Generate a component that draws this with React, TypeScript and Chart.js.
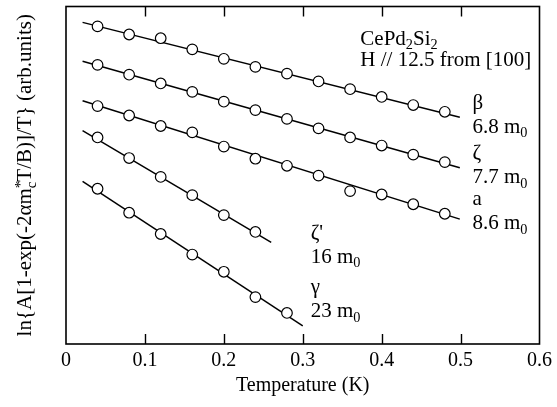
import React, { useEffect, useRef } from "react";
import { Chart, registerables } from "chart.js";

Chart.register(...registerables);

// ---------- data ----------
const xTickValues = [0, 0.1, 0.2, 0.3, 0.4, 0.5, 0.6];
const innerTickValues = [0.1, 0.2, 0.3, 0.4, 0.5];

const tempsLong = [0.04, 0.08, 0.12, 0.16, 0.2, 0.24, 0.28, 0.32, 0.36, 0.4, 0.44, 0.48];
const tempsZetaPrime = [0.04, 0.08, 0.12, 0.16, 0.2, 0.24];
const tempsGamma = [0.04, 0.08, 0.12, 0.16, 0.2, 0.24, 0.28];

const betaY = [9.41, 9.17, 9.06, 8.73, 8.45, 8.21, 8.01, 7.78, 7.55, 7.32, 7.08, 6.88];
const zetaY = [8.27, 7.98, 7.72, 7.47, 7.18, 6.93, 6.67, 6.39, 6.12, 5.88, 5.61, 5.39];
const aY = [7.05, 6.77, 6.46, 6.27, 5.85, 5.49, 5.28, 4.99, 4.53, 4.43, 4.14, 3.86];
const zetaPrimeY = [6.12, 5.51, 4.95, 4.41, 3.82, 3.32];
const gammaY = [4.6, 3.89, 3.26, 2.65, 2.14, 1.39, 0.92];

const betaFitX = [0.021, 0.499];
const betaFitY = [9.53, 6.72];
const zetaFitX = [0.021, 0.499];
const zetaFitY = [8.38, 5.22];
const aFitX = [0.021, 0.499];
const aFitY = [7.21, 3.7];
const zetaPrimeFitX = [0.021, 0.26];
const zetaPrimeFitY = [6.32, 3.01];
const gammaFitX = [0.021, 0.3];
const gammaFitY = [4.82, 0.54];

const seriesNames = ["β", "ζ", "a", "ζ'", "γ"];
const massLabels = ["6.8", "7.7", "8.6", "16", "23"];

// ---------- styles / placement ----------
const FONT = "'Liberation Serif', 'Times New Roman', serif";
const TICK_FONT_SIZE = 20;
const LABEL_FONT_SIZE = 21;
const YTITLE_FONT_SIZE = 21;

// label anchors (data coords: x, baseline y of first line)
const labelAnchors = [
  { x: 0.515, y: 6.97 },
  { x: 0.515, y: 5.47 },
  { x: 0.515, y: 4.12 },
  { x: 0.31, y: 3.12 },
  { x: 0.31, y: 1.5 },
];
const headerAnchor = { x: 0.373, y: 8.87 };

type Run = { t: string; dy?: number; scale?: number; noAdvance?: boolean };

function measureRuns(ctx: CanvasRenderingContext2D, runs: Run[], size: number) {
  let w = 0;
  for (const r of runs) {
    ctx.font = `${size * (r.scale ?? 1)}px ${FONT}`;
    if (!r.noAdvance) w += ctx.measureText(r.t).width;
  }
  return w;
}

function drawRuns(ctx: CanvasRenderingContext2D, runs: Run[], x: number, y: number, size: number) {
  let cx = x;
  for (const r of runs) {
    ctx.font = `${size * (r.scale ?? 1)}px ${FONT}`;
    ctx.fillText(r.t, cx, y + (r.dy ?? 0) * size);
    if (!r.noAdvance) cx += ctx.measureText(r.t).width;
  }
}

const sub = (t: string): Run => ({ t, dy: 0.22, scale: 0.68 });

const framePlugin = {
  id: "frameAndText",
  afterDatasetsDraw(chart: any) {
    const { ctx, chartArea } = chart;
    const xs = chart.scales.x;
    const ys = chart.scales.y;
    ctx.save();
    ctx.strokeStyle = "#000";
    ctx.lineWidth = 1.6;
    ctx.strokeRect(chartArea.left, chartArea.top, chartArea.right - chartArea.left, chartArea.bottom - chartArea.top);
    ctx.lineWidth = 1.4;
    ctx.beginPath();
    for (const v of innerTickValues) {
      const px = Math.round(xs.getPixelForValue(v)) + 0.5;
      ctx.moveTo(px, chartArea.bottom);
      ctx.lineTo(px, chartArea.bottom - 10);
      ctx.moveTo(px, chartArea.top);
      ctx.lineTo(px, chartArea.top + 10);
    }
    ctx.stroke();

    ctx.fillStyle = "#000";
    ctx.textBaseline = "alphabetic";
    ctx.textAlign = "left";

    // header
    const hx = xs.getPixelForValue(headerAnchor.x);
    const hy = ys.getPixelForValue(headerAnchor.y);
    drawRuns(ctx, [{ t: "CePd" }, sub("2"), { t: "Si" }, sub("2")], hx, hy, LABEL_FONT_SIZE);
    drawRuns(ctx, [{ t: "H // 12.5 from [100]" }], hx, hy + 21, LABEL_FONT_SIZE);

    // series labels
    labelAnchors.forEach((a, i) => {
      const lx = xs.getPixelForValue(a.x);
      const ly = ys.getPixelForValue(a.y);
      drawRuns(ctx, [{ t: seriesNames[i] }], lx, ly, LABEL_FONT_SIZE);
      drawRuns(ctx, [{ t: massLabels[i] + " m" }, sub("0")], lx, ly + 24, LABEL_FONT_SIZE);
    });

    // y title
    const runs: Run[] = [
      { t: "ln{A[1-exp(-2αm" },
      { t: "*", dy: -0.3, scale: 0.7, noAdvance: true },
      { t: "c", dy: 0.25, scale: 0.7 },
      { t: "T/B)]/T} (arb.units)" },
    ];
    const w = measureRuns(ctx, runs, YTITLE_FONT_SIZE);
    const cy = (chartArea.top + chartArea.bottom) / 2;
    ctx.translate(31, cy);
    ctx.rotate(-Math.PI / 2);
    drawRuns(ctx, runs, -w / 2, 0, YTITLE_FONT_SIZE);
    ctx.restore();
  },
};

function pts(xs: number[], ys: number[]) {
  return xs.map((x, i) => ({ x, y: ys[i] }));
}

export default function App() {
  const ref = useRef<HTMLCanvasElement | null>(null);
  useEffect(() => {
    if (!ref.current) return;
    const markerStyle = {
      showLine: false,
      pointRadius: 5.3,
      pointBackgroundColor: "#fff",
      pointBorderColor: "#000",
      pointBorderWidth: 1.2,
      borderColor: "#000",
      backgroundColor: "#fff",
    };
    const lineStyle = {
      showLine: true,
      pointRadius: 0,
      borderColor: "#000",
      borderWidth: 1.5,
      backgroundColor: "#000",
    };
    const chart = new Chart(ref.current, {
      type: "scatter",
      data: {
        datasets: [
          { label: "β", data: pts(tempsLong, betaY), ...markerStyle },
          { label: "ζ", data: pts(tempsLong, zetaY), ...markerStyle },
          { label: "a", data: pts(tempsLong, aY), ...markerStyle },
          { label: "ζ'", data: pts(tempsZetaPrime, zetaPrimeY), ...markerStyle },
          { label: "γ", data: pts(tempsGamma, gammaY), ...markerStyle },
          { label: "β fit", data: pts(betaFitX, betaFitY), ...lineStyle },
          { label: "ζ fit", data: pts(zetaFitX, zetaFitY), ...lineStyle },
          { label: "a fit", data: pts(aFitX, aFitY), ...lineStyle },
          { label: "ζ' fit", data: pts(zetaPrimeFitX, zetaPrimeFitY), ...lineStyle },
          { label: "γ fit", data: pts(gammaFitX, gammaFitY), ...lineStyle },
        ] as any,
      },
      options: {
        animation: false,
        responsive: true,
        maintainAspectRatio: false,
        layout: { padding: { top: 4, right: 14, left: 0, bottom: 0 } },
        plugins: { legend: { display: false }, tooltip: { enabled: false } },
        scales: {
          x: {
            type: "linear",
            min: 0,
            max: 0.6,
            afterBuildTicks: (scale: any) => {
              scale.ticks = xTickValues.map((v) => ({ value: v }));
            },
            afterFit: (scale: any) => {
              scale.height = 63;
            },
            grid: { display: false, drawTicks: false },
            border: { display: false },
            ticks: {
              padding: 5,
              color: "#000",
              font: { family: FONT, size: TICK_FONT_SIZE },
              callback: (v: any) => (Number(v) === 0 ? "0" : Number(v).toFixed(1)),
              maxRotation: 0,
              autoSkip: false,
            },
            title: {
              display: true,
              text: "Temperature (K)",
              color: "#000",
              font: { family: FONT, size: 20 },
              padding: { top: 0, bottom: 9 },
            },
          },
          y: {
            type: "linear",
            min: 0,
            max: 10,
            afterFit: (scale: any) => {
              scale.width = 66;
            },
            grid: { display: false, drawTicks: false },
            border: { display: false },
            ticks: { display: false },
          },
        },
      },
      plugins: [framePlugin],
    });
    return () => chart.destroy();
  }, []);
  return (
    <div style={{ position: "absolute", left: 0, top: 0, width: 557, height: 407, background: "#fff" }}>
      <canvas ref={ref} />
    </div>
  );
}
